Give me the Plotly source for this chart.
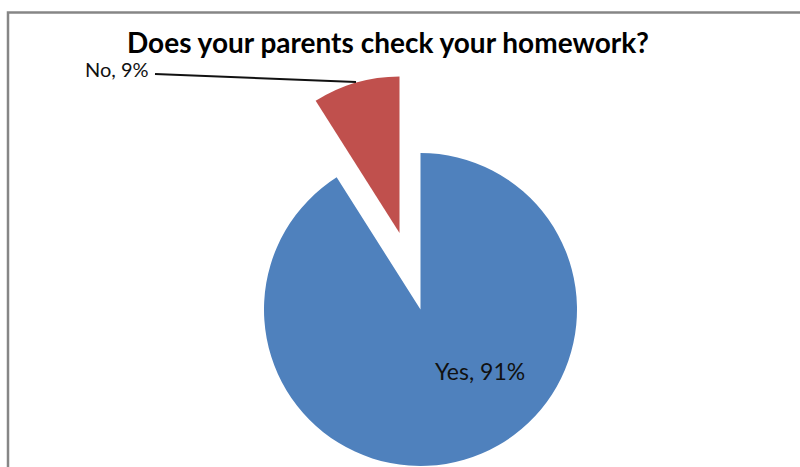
import plotly.graph_objects as go

# Survey answers
labels = ["Yes", "No"]
values = [91, 9]
colors = ["#4F81BD", "#C0504D"]
title_text = "Does your parents check your homework?"

W, H = 800, 467


def fx(x):
    return x / W


def fy(y):
    return 1 - y / H


def box(cx, cy, r):
    return dict(x=[fx(cx - r), fx(cx + r)], y=[fy(cy + r), fy(cy - r)])


R = 156.5
centre = (420.5, 309.5)
# exploded "No" slice is drawn as its own pie, shifted out along its bisector
exploded = (399.5, 233.0)

fig = go.Figure()

for i, (cx, cy) in enumerate([centre, exploded]):
    slice_colors = [c if j == i else "rgba(0,0,0,0)" for j, c in enumerate(colors)]
    fig.add_trace(go.Pie(
        labels=labels,
        values=values,
        sort=False,
        direction="clockwise",
        rotation=0,
        marker=dict(colors=slice_colors, line=dict(width=0)),
        textinfo="none",
        hoverinfo="label+percent",
        showlegend=False,
        domain=box(cx, cy, R),
    ))

# chart border
fig.add_shape(type="rect", xref="paper", yref="paper",
              x0=fx(8), x1=1.02, y0=-0.02, y1=fy(12.5),
              line=dict(color="#868686", width=2.5), fillcolor="rgba(0,0,0,0)")

# leader line for the small slice
fig.add_shape(type="line", xref="paper", yref="paper",
              x0=fx(155), y0=fy(74), x1=fx(356), y1=fy(82),
              line=dict(color="#111111", width=2))

label_font = "Lato, 'Open Sans', sans-serif"
fig.add_annotation(x=fx(480), y=fy(371), xref="paper", yref="paper",
                   xanchor="center", yanchor="middle", borderpad=0,
                   text=f"{labels[0]}, {values[0]}%", showarrow=False,
                   font=dict(family=label_font, size=23, color="#111111"))
fig.add_annotation(x=fx(150), y=fy(69), xref="paper", yref="paper",
                   xanchor="right", yanchor="middle", borderpad=0,
                   text=f"{labels[1]}, {values[1]}%", showarrow=False,
                   font=dict(family=label_font, size=20, color="#111111"))

fig.add_annotation(x=fx(388), y=fy(42), xref="paper", yref="paper",
                   xanchor="center", yanchor="middle", borderpad=0,
                   text=f"<b>{title_text}</b>", showarrow=False,
                   font=dict(family=label_font, size=28, color="#000000"))

fig.update_layout(
    width=W, height=H,
    margin=dict(l=0, r=0, t=0, b=0),
    paper_bgcolor="white",
    plot_bgcolor="white",
)

fig.write_html("out.html")
